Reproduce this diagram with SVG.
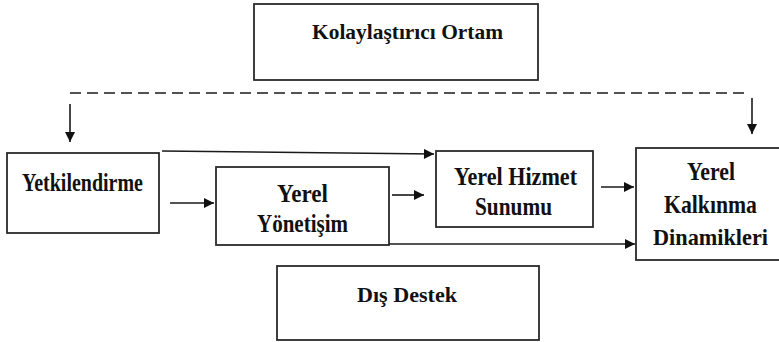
<svg xmlns="http://www.w3.org/2000/svg" width="779" height="342" viewBox="0 0 779 342">
  <defs>
    <marker id="arrow" viewBox="0 0 10 10" refX="10" refY="5" markerWidth="12" markerHeight="10" markerUnits="userSpaceOnUse" orient="auto">
      <path d="M0,0 L10,5 L0,10 Z" fill="#111"/>
    </marker>
    <style>
      rect.box { fill: #fff; stroke: #2a2a2a; stroke-width: 1.8; }
      text { font-family: "Liberation Serif", "Times New Roman", serif; font-weight: bold; fill: #111; text-anchor: middle; }
      .t22 { font-size: 22px; }
      .t24 { font-size: 24px; }
      .t25 { font-size: 25px; }
      .conn { stroke: #1a1a1a; stroke-width: 1.6; fill: none; }
      .arr { marker-end: url(#arrow); }
      .dash { stroke-dasharray: 11 6; }
    </style>
  </defs>
  <rect width="779" height="342" fill="#fff"/>

  <g id="kolaylastirici-ortam">
    <rect class="box" x="254" y="4" width="284" height="76"/>
    <text class="t22" x="407.5" y="39" textLength="191" lengthAdjust="spacingAndGlyphs">Kolaylaştırıcı Ortam</text>
  </g>

  <g id="yetkilendirme">
    <rect class="box" x="7" y="153" width="152" height="80"/>
    <text class="t25" x="82.5" y="191" textLength="121" lengthAdjust="spacingAndGlyphs">Yetkilendirme</text>
  </g>

  <g id="yerel-yonetisim">
    <rect class="box" x="216" y="167" width="173" height="78"/>
    <text class="t25" x="302.5" y="202" textLength="51" lengthAdjust="spacingAndGlyphs">Yerel</text>
    <text class="t25" x="302.5" y="232" textLength="91" lengthAdjust="spacingAndGlyphs">Yönetişim</text>
  </g>

  <g id="yerel-hizmet-sunumu">
    <rect class="box" x="436" y="151" width="157" height="76"/>
    <text class="t25" x="515.5" y="185" textLength="123" lengthAdjust="spacingAndGlyphs">Yerel Hizmet</text>
    <text class="t25" x="513.5" y="215" textLength="77" lengthAdjust="spacingAndGlyphs">Sunumu</text>
  </g>

  <g id="yerel-kalkinma-dinamikleri">
    <rect class="box" x="636" y="148" width="150" height="112"/>
    <text class="t25" x="711" y="180" textLength="48" lengthAdjust="spacingAndGlyphs">Yerel</text>
    <text class="t25" x="710.5" y="213" textLength="93" lengthAdjust="spacingAndGlyphs">Kalkınma</text>
    <text class="t24" x="710.5" y="245" textLength="115" lengthAdjust="spacingAndGlyphs">Dinamikleri</text>
  </g>

  <g id="dis-destek">
    <rect class="box" x="277" y="266" width="262" height="74"/>
    <text class="t22" x="407" y="302" textLength="100" lengthAdjust="spacingAndGlyphs">Dış Destek</text>
  </g>

  <g id="connectors">
    <line class="conn dash" x1="70" y1="93" x2="750" y2="93"/>
    <line class="conn arr" x1="70" y1="104" x2="70" y2="142"/>
    <line class="conn arr" x1="752" y1="98" x2="752" y2="134"/>
    <line class="conn arr" x1="162" y1="151" x2="434" y2="154"/>
    <line class="conn arr" x1="170" y1="203" x2="214" y2="203"/>
    <line class="conn arr" x1="392" y1="195" x2="424" y2="195"/>
    <line class="conn arr" x1="601" y1="187" x2="634" y2="187"/>
    <line class="conn arr" x1="389" y1="244" x2="635" y2="244"/>
  </g>
</svg>
